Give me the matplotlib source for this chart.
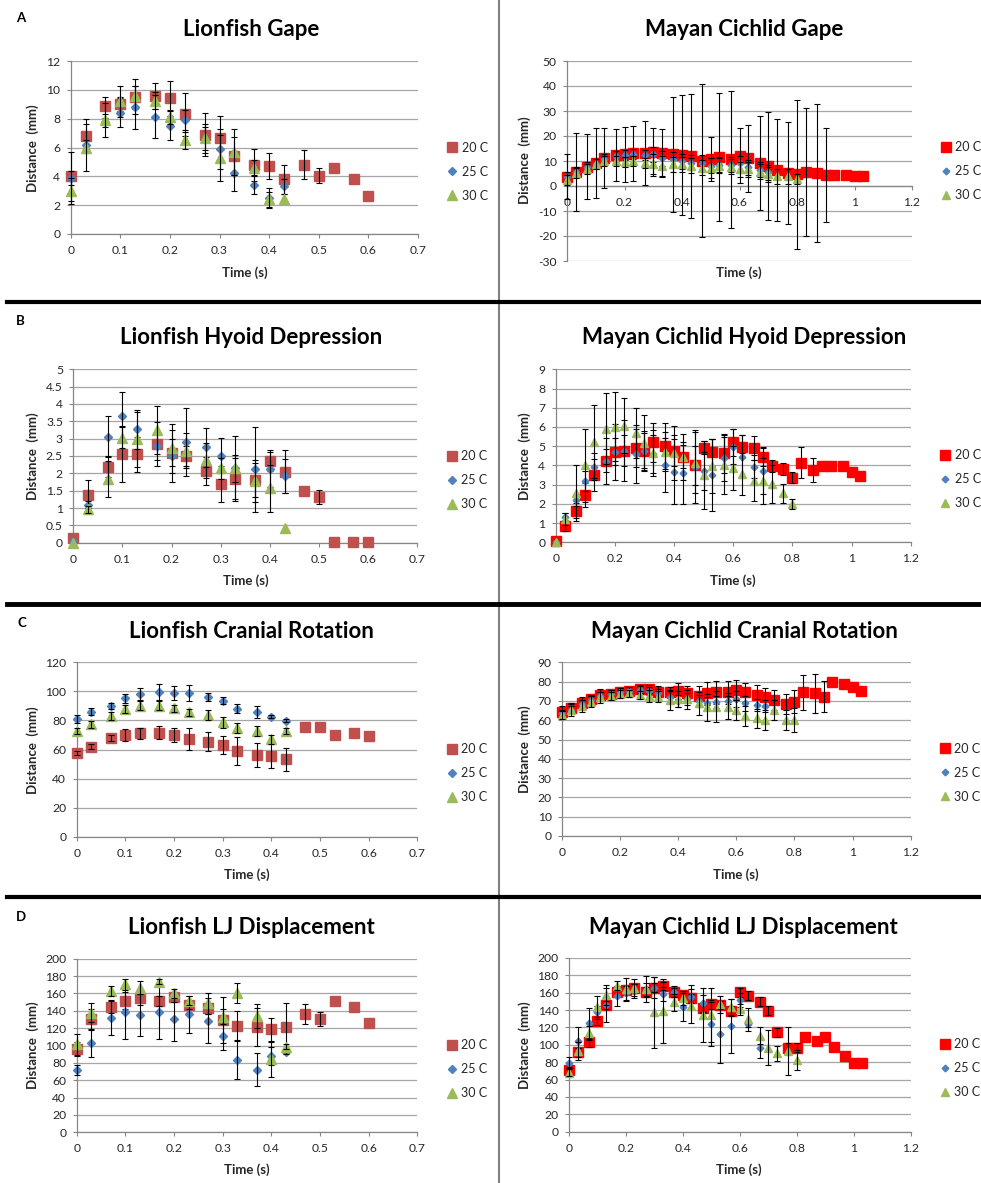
import matplotlib
matplotlib.use("Agg")
import matplotlib.pyplot as plt
from matplotlib.lines import Line2D
from matplotlib.ticker import FuncFormatter, MultipleLocator

plt.rcParams["font.family"] = ["Lato", "DejaVu Sans"]

W, H = 981, 1183

# time points (s)
lion_time = [0, 0.03, 0.07, 0.1, 0.13, 0.17, 0.2, 0.23, 0.27, 0.3, 0.33, 0.37, 0.4,
             0.43, 0.47, 0.5, 0.53, 0.57, 0.6]
maya_time = [0, 0.03, 0.07, 0.1, 0.13, 0.17, 0.2, 0.23, 0.27, 0.3, 0.33, 0.37, 0.4,
             0.43, 0.47, 0.5, 0.53, 0.57, 0.6, 0.63, 0.67, 0.7, 0.73, 0.77, 0.8,
             0.83, 0.87, 0.9, 0.93, 0.97, 1.0, 1.03]
labels = ["20 C", "25 C", "30 C"]

# Lionfish gape
lion_gape_20 = [4.0, 6.8, 8.9, 9.0, 9.5, 9.6, 9.4, 8.3, 6.9, 6.65, 5.4, 4.8, 4.7, 3.8, 4.8, 4.05, 4.6, 3.8, 2.65]
lion_gape_20_err = [1.7, 1.2, 0.6, 0.5, 0.8, 0.9, 1.2, 1.5, 1.5, 1.55, 1.3, 1.1, 0.9, 1.0, 1.0, 0.5, 0, 0, 0]
lion_gape_25 = [3.9, 6.2, 7.75, 8.4, 8.8, 8.15, 7.5, 7.9, 6.6, 5.9, 4.2, 3.4, 2.5, 3.3]
lion_gape_25_err = [0.5, 0.3, 0.3, 1.0, 1.5, 1.5, 1.0, 0.7, 0.8, 1.4, 1.2, 0.6, 0.7, 0.5]
lion_gape_30 = [3.0, 6.0, 7.9, 9.2, 9.55, 9.25, 8.1, 6.5, 6.65, 5.3, 5.7, 4.6, 2.4, 2.4]
lion_gape_30_err = [0.9, 1.6, 1.2, 1.1, 1.2, 0.6, 0.5, 0.6, 1.0, 1.6, 1.6, 0.5, 0.5, 0]

# Lionfish hyoid depression
lion_hyoid_20 = [0.14, 1.375, 2.19, 2.55, 2.55, 2.85, 2.6, 2.5, 2.07, 1.69, 1.84, 1.81, 2.37, 2.05, 1.5, 1.33, 0.02, 0.02, 0.02]
lion_hyoid_20_err = [0, 0.42, 0.3, 0.81, 0.5, 0.64, 0.4, 0.3, 0.41, 0.53, 0.59, 0.5, 0.3, 0.62, 0, 0.2, 0, 0, 0]
lion_hyoid_25 = [0.05, 1.09, 3.06, 3.65, 3.27, 2.79, 2.5, 2.91, 2.75, 2.51, 2.14, 2.12, 2.12, 1.92]
lion_hyoid_25_err = [0, 0.1, 0.59, 0.7, 0.57, 0.4, 0.74, 0.98, 0.57, 0.5, 0.4, 1.23, 0.5, 0.5]
lion_hyoid_30 = [0.0, 0.96, 1.84, 3.03, 2.98, 3.25, 2.72, 2.65, 2.38, 2.14, 2.14, 1.78, 1.57, 0.41]
lion_hyoid_30_err = [0, 0.1, 0.53, 0.3, 0.8, 0.69, 0.7, 0.5, 0.5, 0.3, 0.95, 0.6, 0.68, 0]

# Lionfish cranial rotation
lion_cran_20 = [57.8, 62.0, 67.7, 70.0, 71.1, 71.6, 69.8, 67.0, 65.4, 63.1, 59.0, 56.2, 55.5, 53.2, 75.7, 75.3, 70.0, 71.6, 69.5]
lion_cran_20_err = [1.5, 1.5, 2.0, 4.1, 3.8, 4.6, 4.8, 7.5, 6.3, 6.1, 9.8, 8.1, 8.1, 8.1, 0, 0, 0, 0, 0]
lion_cran_25 = [81.0, 86.0, 90.2, 95.2, 98.0, 99.8, 98.7, 99.1, 96.4, 93.6, 88.1, 86.0, 82.6, 79.9]
lion_cran_25_err = [3.0, 2.5, 2.0, 3.0, 4.0, 5.5, 4.8, 5.5, 2.8, 2.3, 3.2, 4.2, 1.0, 1.0]
lion_cran_30 = [72.7, 77.3, 83.0, 87.9, 90.2, 90.2, 88.3, 85.6, 83.8, 78.7, 74.6, 72.7, 67.0, 72.7]
lion_cran_30_err = [2.0, 2.5, 2.5, 3.0, 3.0, 3.0, 2.5, 2.5, 3.7, 3.6, 3.4, 3.7, 3.1, 2.0]

# Lionfish LJ displacement
lion_lj_20 = [95.6, 130.1, 144.7, 151.6, 155.1, 151.2, 155.5, 146.6, 142.8, 129.4, 122.8, 120.9, 118.6, 121.7, 136.3, 130.1, 151.2, 144.0, 125.5]
lion_lj_20_err = [8, 12, 7, 10, 9, 6, 5, 5, 6, 27, 17, 22, 13, 27, 11.3, 8, 0, 0, 0]
lion_lj_25 = [71.8, 102.5, 132.0, 139.0, 135.1, 139.0, 130.5, 135.9, 128.6, 110.9, 83.3, 71.8, 87.9, 92.9]
lion_lj_25_err = [6, 16, 20, 31, 24, 31, 25, 21, 26, 16, 22, 19, 10, 3]
lion_lj_30 = [101.3, 137.8, 163.1, 170.4, 166.6, 173.5, 160.1, 151.6, 148.6, 133.2, 160.5, 134.0, 84.1, 98.7]
lion_lj_30_err = [12, 11, 6, 6, 7.5, 3, 5, 5, 12, 9, 11, 14, 20, 3]

# Mayan cichlid gape
maya_gape_20 = [3.7, 5.7, 7.7, 9.3, 11.3, 12.4, 12.7, 13.1, 13.3, 13.7, 13.3, 12.8, 12.3, 12.0, 10.1, 10.8,
                11.6, 10.7, 12.1, 11.1, 9.3, 8.0, 6.4, 5.3, 4.7, 5.5, 5.3, 4.4, 4.4, 4.4, 4.0, 4.0]
maya_gape_20_err = [9, 15.5, 13, 14, 12, 10.3, 11, 11, 12.8, 9.6, 9.6, 23, 24, 24.7, 30.6, 8.7,
                    25.5, 27.3, 11, 13.3, 18.7, 21.7, 20.5, 20.5, 29.9, 25.6, 27.5, 18.7, 0, 0, 0, 0]
maya_gape_25 = [3.5, 5.5, 7.5, 9.0, 11.0, 12.0, 12.5, 13.0, 12.5, 12.7, 11.1, 10.7, 10.0, 9.3, 9.3, 8.1,
                8.5, 8.5, 9.1, 7.5, 6.5, 5.5]
maya_gape_25_err = [2, 2, 2, 2, 2, 2, 2, 2, 2, 3, 3, 3, 3, 3, 3, 3, 3, 3, 3, 3, 3, 3]
maya_gape_30 = [2.4, 5.1, 6.7, 8.7, 10.0, 10.0, 9.7, 10.0, 9.3, 8.8, 8.1, 8.8, 8.7, 8.1, 7.3, 7.3,
                8.1, 7.7, 6.8, 6.8, 5.7, 4.8, 4.0, 4.0, 2.8]
maya_gape_30_err = [2, 2, 2, 2, 2, 2, 2, 2, 2, 4, 4, 3, 3, 3, 3, 4, 3, 3, 3, 3, 3, 3, 3, 3, 2]

# Mayan cichlid hyoid depression
maya_hyoid_20 = [0.07, 0.87, 1.65, 2.46, 3.5, 4.23, 4.7, 4.77, 4.9, 4.77, 5.2, 5.0, 4.77, 4.46, 4.0, 4.92,
                 4.68, 4.63, 5.2, 4.98, 4.92, 4.46, 3.97, 3.8, 3.36, 4.14, 3.76, 3.97, 3.97, 3.97, 3.64, 3.45]
maya_hyoid_20_err = [0, 0.3, 0.4, 0.6, 0.85, 1.2, 1.46, 1.6, 1.0, 0.9, 1.0, 1.2, 0.8, 0.6, 1.0, 0.35,
                     0.7, 1.0, 0.7, 0.6, 0.63, 0.5, 0.3, 0.3, 0.3, 0.8, 0.6, 0, 0, 0, 0, 0]
maya_hyoid_25 = [0.0, 1.3, 2.2, 3.19, 3.94, 4.25, 4.72, 4.77, 4.58, 4.77, 4.6, 4.02, 3.68, 3.62, 3.94, 3.7,
                 3.5, 4.4, 4.98, 4.46, 3.94, 3.73]
maya_hyoid_25_err = [0, 0.2, 0.3, 0.5, 0.7, 0.6, 0.7, 0.8, 1.5, 1.0, 1.0, 1.4, 1.67, 1.62, 1.9, 1.0,
                     1.85, 1.2, 0.9, 1.1, 0.6, 1.2]
maya_hyoid_30 = [0.0, 1.2, 2.58, 4.02, 5.23, 5.9, 6.02, 6.07, 5.69, 5.15, 4.63, 4.72, 4.63, 4.42, 4.14, 3.5,
                 3.97, 4.0, 3.88, 3.55, 3.21, 3.21, 3.02, 2.55, 2.0]
maya_hyoid_30_err = [0, 0.3, 1.45, 1.9, 1.9, 1.85, 1.8, 1.45, 1.3, 1.45, 1.2, 1.0, 1.4, 1.2, 1.6, 1.75,
                     1.4, 1.5, 1.15, 1.1, 1.05, 1.2, 1.0, 0.5, 0.25]

# Mayan cichlid cranial rotation
maya_cran_20 = [64.4, 66.1, 69.1, 70.8, 73.1, 73.6, 74.8, 75.3, 76.0, 76.0, 74.8, 74.4, 75.1, 73.9, 72.5, 73.9,
                74.4, 74.4, 75.6, 74.4, 73.1, 71.8, 70.5, 68.4, 69.6, 74.4, 73.9, 72.2, 79.6, 78.8, 77.4, 75.1]
maya_cran_20_err = [3, 3, 3, 2, 3, 2, 2, 2, 2, 2, 3, 3, 4, 4, 5, 6, 6, 6, 5, 5, 5, 5, 5, 5, 6, 9, 10, 8, 0, 0, 0, 0]
maya_cran_25 = [63.5, 65.5, 68.5, 70.5, 72.5, 73.5, 74.5, 75.0, 75.5, 75.0, 74.0, 72.0, 70.0, 71.0, 70.0, 69.0,
                69.5, 70.0, 71.0, 68.7, 67.9, 67.4]
maya_cran_25_err = [2, 2, 2, 2, 2, 2, 2, 2, 2, 2, 2, 3, 3, 3, 3, 3, 3, 4, 4, 4, 3, 3]
maya_cran_30 = [62.7, 65.3, 67.4, 69.6, 71.8, 72.7, 73.6, 73.9, 73.1, 72.5, 72.2, 70.5, 71.0, 70.8, 68.7, 66.7,
                67.0, 66.7, 65.3, 62.2, 61.0, 60.1, 65.3, 60.1, 60.1]
maya_cran_30_err = [2, 3, 3, 3, 3, 2, 2, 2, 2, 3, 3, 5, 4, 5, 6, 7, 8, 6, 5, 5, 5, 5, 5, 5, 6]

# Mayan cichlid LJ displacement
maya_lj_20 = [71.0, 91.4, 102.9, 127.4, 145.9, 161.2, 163.1, 165.0, 161.2, 165.8, 167.8, 160.5, 157.4, 153.6,
              142.0, 146.6, 145.9, 139.3, 160.5, 156.6, 149.7, 139.3, 114.4, 96.7, 96.7, 109.4, 104.8, 108.6,
              97.1, 87.5, 79.5, 79.5]
maya_lj_20_err = [4, 5, 5, 5, 5, 5, 5, 5, 5, 5, 5, 5, 5, 5, 5, 5, 5, 5, 5, 5, 5, 5, 5, 5, 5, 0, 0, 0, 0, 0, 0, 0]
maya_lj_25 = [79.5, 104.8, 124.8, 138.2, 145.9, 156.2, 159.3, 162.0, 163.0, 165.8, 158.5, 161.2, 144.0, 155.5,
              147.8, 124.0, 112.5, 121.7, 151.6, 123.6, 96.7]
maya_lj_25_err = [6, 16, 18, 6, 20, 11, 9, 8, 8, 12, 8, 6, 16, 13, 10, 25, 33, 31, 8, 3, 12]
maya_lj_30 = [67.9, 92.9, 114.0, 143.2, 157.4, 168.1, 164.3, 165.8, 164.0, 137.4, 139.0, 148.9, 153.6, 144.8,
              134.4, 134.4, 146.6, 143.2, 140.9, 129.4, 110.6, 96.7, 90.2, 92.9, 82.5]
maya_lj_30_err = [4, 10, 8, 13, 12, 5, 13, 10, 15, 41, 37, 10, 8, 20, 31, 31, 10, 10, 6, 13, 10, 20, 9, 28, 12]

# marker styles (marker, size, colour) per temperature
LION_STYLE = [("s", 6.5, "#C0504D"), ("D", 4.3, "#4F81BD"), ("^", 6.8, "#9BBB59")]
MAYA_STYLE = [("s", 6.5, "#FF0000"), ("D", 3.4, "#4F81BD"), ("^", 6.3, "#9BBB59")]

GRID = "#A6A6A6"
AXIS = "#868686"
TEXT = "#262626"


def fmt_num(v, pos):
    return "{:g}".format(round(v, 3))


def px(x, y):
    """pixel position -> figure fraction"""
    return x / W, 1 - y / H


def draw_panel(fig, p):
    """Draws one Excel style scatter panel with error bars"""
    x0, y0, x1, y1 = p["box"]
    ax = fig.add_axes([x0 / W, 1 - y1 / H, (x1 - x0) / W, (y1 - y0) / H])
    handles = []
    for i, (vals, errs) in enumerate(p["series"]):
        marker, ms, col = p["style"][i]
        t = p["time"][:len(vals)]
        ln, = ax.plot(t, vals, linestyle="none", marker=marker, ms=ms, color=col,
                      mec=col, clip_on=False, zorder=3 + 2 * i)
        handles.append(ln)
        et = [tt for tt, e in zip(t, errs) if e > 0]
        ev = [v for v, e in zip(vals, errs) if e > 0]
        ee = [e for e in errs if e > 0]
        eb = ax.errorbar(et, ev, yerr=ee, fmt="none", ecolor="black", elinewidth=0.8,
                         capsize=2.2, capthick=0.8, zorder=4 + 2 * i)
        for art in list(eb[1]) + list(eb[2]):
            art.set_clip_on(False)

    ax.set_xlim(0, p["xmax"])
    ax.set_ylim(*p["ylim"])
    ax.xaxis.set_major_locator(MultipleLocator(p["xstep"]))
    ax.yaxis.set_major_locator(MultipleLocator(p["ystep"]))
    ax.xaxis.set_major_formatter(FuncFormatter(fmt_num))
    ax.yaxis.set_major_formatter(FuncFormatter(fmt_num))
    ax.yaxis.grid(True, color=GRID, lw=0.9)
    ax.set_axisbelow(True)
    for side in ["top", "right"]:
        ax.spines[side].set_visible(False)
    for side in ["left", "bottom"]:
        ax.spines[side].set_color(AXIS)
        ax.spines[side].set_linewidth(0.9)
    if p["ylim"][0] < 0:
        ax.spines["bottom"].set_position(("data", 0))
    ax.tick_params(axis="both", direction="out", length=3, width=0.8, color=AXIS,
                   labelsize=8.7, labelcolor=TEXT)
    ax.tick_params(axis="x", pad=5)
    ax.tick_params(axis="y", pad=4.5)

    # titles and labels
    tx, ty = px(*p["title_xy"])
    fig.text(tx, ty, p["title"], ha="center", va="center", fontsize=16,
             fontweight="bold", color="black")
    lx, ly = px(*p["ylabel_xy"])
    fig.text(lx, ly, "Distance  (mm)", ha="center", va="center", rotation=90,
             fontsize=9.5, fontweight="bold", color=TEXT)
    lx, ly = px(*p["xlabel_xy"])
    fig.text(lx, ly, "Time (s)", ha="center", va="center", fontsize=9.5,
             fontweight="bold", color=TEXT)
    if p.get("letter"):
        letter, lx, ly = p["letter"]
        fx, fy = px(lx, ly)
        fig.text(fx, fy, letter, ha="center", va="center", fontsize=9.5,
                 fontweight="bold", color="black")

    gx, gy = px(p["legend_xy"][0] - 4.6, p["legend_xy"][1])
    ax.legend(handles, labels, loc="center left", bbox_to_anchor=(gx, gy),
              bbox_transform=fig.transFigure, frameon=False, borderpad=0,
              borderaxespad=0, handlelength=0.8, handletextpad=0.35,
              labelspacing=0.95, fontsize=9, labelcolor=TEXT)
    return ax


panels = [
    dict(box=(70.7, 61, 418, 234), time=lion_time, style=LION_STYLE, xmax=0.7, xstep=0.1,
         ylim=(0, 12), ystep=2, title="Lionfish Gape", title_xy=(251, 30),
         series=[(lion_gape_20, lion_gape_20_err), (lion_gape_25, lion_gape_25_err),
                 (lion_gape_30, lion_gape_30_err)],
         legend_xy=(452, 171.7), ylabel_xy=(33, 148), xlabel_xy=(245, 272.7),
         letter=("A", 21, 18)),
    dict(box=(567, 61, 912, 261), time=maya_time, style=MAYA_STYLE, xmax=1.2, xstep=0.2,
         ylim=(-30, 50), ystep=10, title="Mayan Cichlid Gape", title_xy=(744, 30),
         series=[(maya_gape_20, maya_gape_20_err), (maya_gape_25, maya_gape_25_err),
                 (maya_gape_30, maya_gape_30_err)],
         legend_xy=(945.7, 171), ylabel_xy=(525, 160), xlabel_xy=(739.3, 272.7)),
    dict(box=(73.3, 369.3, 417.3, 542.7), time=lion_time, style=LION_STYLE, xmax=0.7, xstep=0.1,
         ylim=(0, 5), ystep=0.5, title="Lionfish Hyoid Depression", title_xy=(251, 338),
         series=[(lion_hyoid_20, lion_hyoid_20_err), (lion_hyoid_25, lion_hyoid_25_err),
                 (lion_hyoid_30, lion_hyoid_30_err)],
         legend_xy=(451.7, 480), ylabel_xy=(32.7, 456), xlabel_xy=(245.7, 580.7),
         letter=("B", 20.7, 320.7)),
    dict(box=(555.7, 369.3, 910.7, 542.3), time=maya_time, style=MAYA_STYLE, xmax=1.2, xstep=0.2,
         ylim=(0, 9), ystep=1, title="Mayan Cichlid Hyoid Depression", title_xy=(744, 338),
         series=[(maya_hyoid_20, maya_hyoid_20_err), (maya_hyoid_25, maya_hyoid_25_err),
                 (maya_hyoid_30, maya_hyoid_30_err)],
         legend_xy=(945, 479.3), ylabel_xy=(525, 456), xlabel_xy=(733.3, 580.7)),
    dict(box=(76.7, 662.3, 417.3, 836.7), time=lion_time, style=LION_STYLE, xmax=0.7, xstep=0.1,
         ylim=(0, 120), ystep=20, title="Lionfish Cranial Rotation", title_xy=(251, 632),
         series=[(lion_cran_20, lion_cran_20_err), (lion_cran_25, lion_cran_25_err),
                 (lion_cran_30, lion_cran_30_err)],
         legend_xy=(451.7, 773.3), ylabel_xy=(32.3, 750), xlabel_xy=(246.7, 874.3),
         letter=("C", 21.7, 622.7)),
    dict(box=(562, 662.3, 910.7, 836), time=maya_time, style=MAYA_STYLE, xmax=1.2, xstep=0.2,
         ylim=(0, 90), ystep=10, title="Mayan Cichlid Cranial Rotation", title_xy=(744, 632),
         series=[(maya_cran_20, maya_cran_20_err), (maya_cran_25, maya_cran_25_err),
                 (maya_cran_30, maya_cran_30_err)],
         legend_xy=(944.3, 772.7), ylabel_xy=(525, 749), xlabel_xy=(736, 874.3)),
    dict(box=(76.7, 958.7, 417.3, 1132.3), time=lion_time, style=LION_STYLE, xmax=0.7, xstep=0.1,
         ylim=(0, 200), ystep=20, title="Lionfish LJ Displacement", title_xy=(251, 927),
         series=[(lion_lj_20, lion_lj_20_err), (lion_lj_25, lion_lj_25_err),
                 (lion_lj_30, lion_lj_30_err)],
         legend_xy=(451.7, 1069.3), ylabel_xy=(32.3, 1045), xlabel_xy=(246.7, 1170),
         letter=("D", 21.3, 917.3)),
    dict(box=(569, 958, 910.7, 1131.7), time=maya_time, style=MAYA_STYLE, xmax=1.2, xstep=0.2,
         ylim=(0, 200), ystep=20, title="Mayan Cichlid LJ Displacement", title_xy=(743, 927),
         series=[(maya_lj_20, maya_lj_20_err), (maya_lj_25, maya_lj_25_err),
                 (maya_lj_30, maya_lj_30_err)],
         legend_xy=(944.3, 1068.3), ylabel_xy=(525, 1045), xlabel_xy=(739.3, 1169.3)),
]

fig = plt.figure(figsize=(W / 100, H / 100), dpi=100)
fig.patch.set_facecolor("white")

# panel separators
fig.add_artist(Line2D([498.5 / W, 498.5 / W], [0, 1], transform=fig.transFigure,
                      color="#808080", lw=1.5))
for yy, lw in [(302, 3.0), (604, 3.5), (897, 3.0)]:
    fig.add_artist(Line2D([7 / W, 1], [1 - yy / H, 1 - yy / H], transform=fig.transFigure,
                          color="black", lw=lw))

for p in panels:
    draw_panel(fig, p)

plt.savefig("out.png", dpi=100)
